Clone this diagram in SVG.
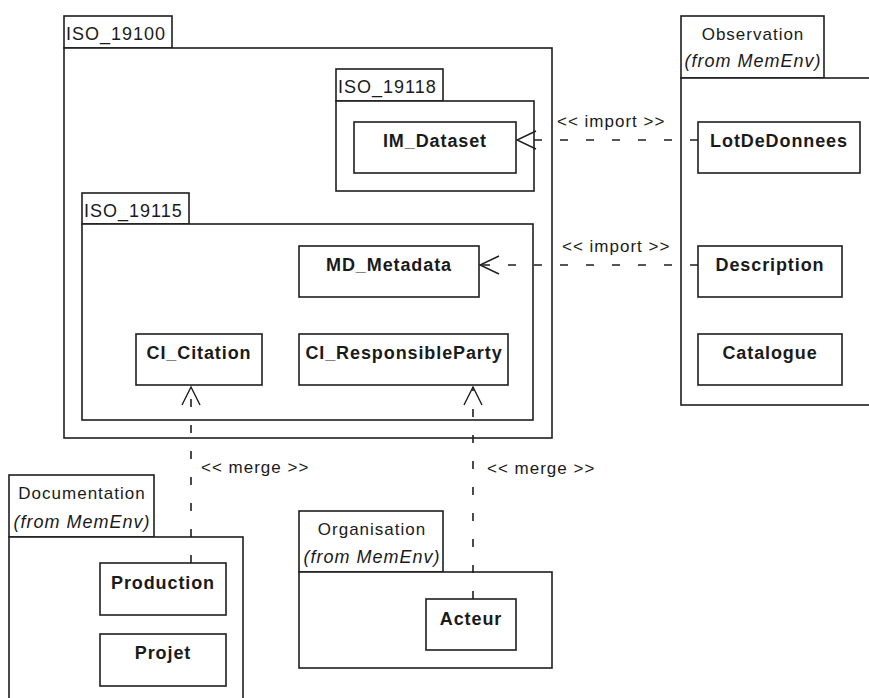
<svg xmlns="http://www.w3.org/2000/svg" width="869" height="698" viewBox="0 0 869 698">
<style>
.pkg{fill:#fff;stroke:#1e1e1e;stroke-width:1.6}
.cls{fill:#fff;stroke:#1e1e1e;stroke-width:1.6}
.t{font-family:"Liberation Sans",Arial,sans-serif;font-size:17px;letter-spacing:1px;fill:#1a1a1a}
.tab{font-size:18px}
.c{text-anchor:middle}
.it{font-style:italic;font-size:18px}
.b{font-weight:bold;font-size:18px;letter-spacing:0.9px;text-anchor:middle}
.dash{fill:none;stroke:#1e1e1e;stroke-width:1.6;stroke-dasharray:8 18}
.head{fill:none;stroke:#1e1e1e;stroke-width:1.4}
</style>
<rect width="869" height="698" fill="#fff"/>

<g id="ISO_19100">
<rect class="pkg" x="64" y="16" width="108" height="32"/>
<rect class="pkg" x="64" y="48" width="488" height="390"/>
<text class="t tab" x="66" y="40">ISO_19100</text>
</g>
<g id="ISO_19118">
<rect class="pkg" x="336" y="69" width="107" height="32"/>
<rect class="pkg" x="336" y="101" width="198" height="90"/>
<text class="t tab" x="338" y="93">ISO_19118</text>
</g>
<g id="ISO_19115">
<rect class="pkg" x="82" y="193" width="107" height="31"/>
<rect class="pkg" x="82" y="224" width="451" height="196"/>
<text class="t tab" x="84" y="217">ISO_19115</text>
</g>
<g id="Observation">
<rect class="pkg" x="681" y="16" width="143" height="62"/>
<rect class="pkg" x="681" y="78" width="200" height="327"/>
<text class="t c" x="753" y="40">Observation</text>
<text class="t it c" x="753" y="67">(from MemEnv)</text>
</g>
<g id="Documentation">
<rect class="pkg" x="9" y="475" width="145" height="62"/>
<rect class="pkg" x="9" y="537" width="234" height="170"/>
<text class="t c" x="82" y="499">Documentation</text>
<text class="t it c" x="82" y="528">(from MemEnv)</text>
</g>
<g id="Organisation">
<rect class="pkg" x="299" y="511" width="144" height="61"/>
<rect class="pkg" x="299" y="572" width="253" height="96"/>
<text class="t c" x="372" y="535">Organisation</text>
<text class="t it c" x="372" y="563">(from MemEnv)</text>
</g>

<g id="IM_Dataset"><rect class="cls" x="354" y="122" width="162" height="51"/><text class="t b" x="435" y="147">IM_Dataset</text></g>
<g id="MD_Metadata"><rect class="cls" x="299" y="246" width="180" height="51"/><text class="t b" x="389" y="271">MD_Metadata</text></g>
<g id="CI_Citation"><rect class="cls" x="136" y="334" width="126" height="51"/><text class="t b" x="199" y="359">CI_Citation</text></g>
<g id="CI_ResponsibleParty"><rect class="cls" x="299" y="334" width="209" height="51"/><text class="t b" x="404" y="359">CI_ResponsibleParty</text></g>
<g id="LotDeDonnees"><rect class="cls" x="698" y="122" width="162" height="51"/><text class="t b" x="779" y="147">LotDeDonnees</text></g>
<g id="Description"><rect class="cls" x="698" y="246" width="144" height="51"/><text class="t b" x="770" y="271">Description</text></g>
<g id="Catalogue"><rect class="cls" x="698" y="334" width="144" height="51"/><text class="t b" x="770" y="359">Catalogue</text></g>
<g id="Production"><rect class="cls" x="100" y="563" width="126" height="52"/><text class="t b" x="163" y="589">Production</text></g>
<g id="Projet"><rect class="cls" x="100" y="634" width="126" height="52"/><text class="t b" x="163" y="659">Projet</text></g>
<g id="Acteur"><rect class="cls" x="426" y="599" width="90" height="51"/><text class="t b" x="471" y="625">Acteur</text></g>

<g id="connectors">
<path class="dash" d="M698,140 H518"/>
<polyline class="head" points="536,131 517,140 536,149"/>
<text class="t" x="557" y="127">&lt;&lt; import &gt;&gt;</text>
<path class="dash" d="M698,265 H480"/>
<polyline class="head" points="499,256 480,265 499,274"/>
<text class="t" x="562" y="252">&lt;&lt; import &gt;&gt;</text>
<path class="dash" d="M191,563 V387"/>
<polyline class="head" points="182,405 191,387 200,405"/>
<text class="t" x="201" y="473">&lt;&lt; merge &gt;&gt;</text>
<path class="dash" d="M473,599 V387"/>
<polyline class="head" points="464,405 473,387 482,405"/>
<text class="t" x="487" y="474">&lt;&lt; merge &gt;&gt;</text>
</g>
</svg>
